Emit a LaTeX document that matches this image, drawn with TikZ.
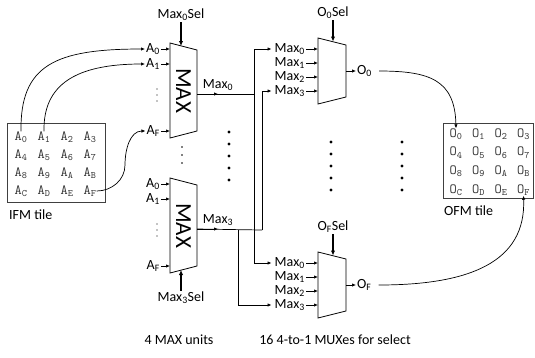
\documentclass[tikz,border=0pt]{standalone}
\usepackage{fontspec}
\setmainfont{Carlito}
\usetikzlibrary{arrows.meta}

\tikzset{
    wire/.style={line width=0.7pt},
    arr/.style={wire, -{Latex[length=4pt,width=3.4pt]}},
    selarr/.style={line width=1.1pt, -{Latex[length=5pt,width=4.5pt]}},
    unitbox/.style={line width=0.8pt},
    tilebox/.style={line width=0.8pt, black!75},
    lbl/.style={font=\fontsize{14}{15}\selectfont, inner sep=1pt},
    cell/.style={font=\ttfamily\fontsize{14}{15}\selectfont, inner sep=0pt, black!80},
}

\begin{document}
\begin{tikzpicture}[x=1pt,y=-1pt]
    \useasboundingbox (0,0) rectangle (535,357);

    % max units
    \foreach \k/\dy in {0/0,3/135} {
        \draw[unitbox] (170,43+\dy) -- (197,50+\dy) -- (197,131+\dy) -- (170,138+\dy) -- cycle;
        \node[rotate=-90, font=\fontsize{23}{23}\selectfont, inner sep=0pt] (max\k) at (183.5,90.5+\dy) {MAX};
        \node[lbl, anchor=east] (A\k-0) at (161,49+\dy) {A\textsubscript{0}};
        \node[lbl, anchor=east] (A\k-1) at (161,64+\dy) {A\textsubscript{1}};
        \node[lbl, anchor=east] (A\k-F) at (161,131+\dy) {A\textsubscript{F}};
        \coordinate (m\k-i0) at (170,49+\dy);
        \coordinate (m\k-i1) at (170,64+\dy);
        \coordinate (m\k-iF) at (170,131+\dy);
        \draw[arr] (A\k-0.east) -- (m\k-i0);
        \draw[arr] (A\k-1.east) -- (m\k-i1);
        \draw[arr] (A\k-F.east) -- (m\k-iF);
        \foreach \y in {89,95,101} \fill (157,\y+\dy) circle[radius=0.7pt];
        \coordinate (m\k-out) at (197,94+\dy);
        \node[lbl, anchor=south] (lblmax\k) at (218,92+\dy) {Max\textsubscript{\k}};
        \draw[arr] (m\k-out) -- (m\k-out -| lblmax\k);
    }
    \node[lbl] (msel0) at (181,15) {Max\textsubscript{0}Sel};
    \coordinate (m0-sel) at (181,46);
    \draw[selarr] (msel0) -- (m0-sel);
    \node[lbl] (msel3) at (181,298) {Max\textsubscript{3}Sel};
    \coordinate (m3-sel) at (181,270);
    \draw[selarr] (msel3) -- (m3-sel);

    % muxes
    \foreach \k/\dy in {0/0,F/214} {
        \draw[unitbox] (318,38+\dy) -- (346,45+\dy) -- (346,97+\dy) -- (318,104+\dy) -- cycle;
        \foreach \i in {0,...,3} {
            \node[lbl, anchor=east] (M\k-\i) at (306,49+14*\i+\dy) {Max\textsubscript{\i}};
            \coordinate (x\k-\i) at (318,49+14*\i+\dy);
            \draw[arr] (M\k-\i.east) -- (x\k-\i);
        }
        \coordinate (x\k-out) at (346,71+\dy);
        \node[lbl, anchor=west] (o\k) at (356,71+\dy) {O\textsubscript{\k}};
        \draw[arr] (x\k-out) -- (o\k.west);
        \node[lbl] (osel\k) at (333,13+\dy) {O\textsubscript{\k}Sel};
        \coordinate (x\k-sel) at (333,41.5+\dy);
        \draw[selarr] (osel\k) -- (x\k-sel);
    }

    % wiring between max units and muxes
    \coordinate (bus0) at (254,94);
    \coordinate (bus3) at (262,230);
    \coordinate (tap3) at (238,230);
    \draw[wire] (m0-out) -- (bus0);
    \draw[wire] (m3-out) -- (bus3);
    \draw[arr, shorten >=2pt] (bus0) |- (M0-0.west);
    \draw[arr, shorten >=2pt] (bus0) |- (MF-0.west);
    \draw[arr, shorten >=2pt] (bus3) |- (M0-3.west);
    \draw[arr, shorten >=2pt] (tap3) |- (MF-3.west);

    % tiles
    \draw[tilebox] (7,123) rectangle (105,202);
    \draw[tilebox] (443,123) rectangle (533,198);
    \foreach \c [count=\n from 0] in {0,1,2,3,4,5,6,7,8,9,A,B,C,D,E,F} {
        \node[cell] (ifm\c) at ({21+23*mod(\n,4)},{137+18*int(\n/4)}) {A\textsubscript{\c}};
        \node[cell] (ofm\c) at ({456+22.5*mod(\n,4)},{134+18.7*int(\n/4)}) {O\textsubscript{\c}};
    }
    \node[lbl, anchor=west] (ifmlbl) at (8,215) {IFM tile};
    \node[lbl, anchor=west] (ofmlbl) at (443,211) {OFM tile};

    % tile to max inputs
    \coordinate (bendF) at (125,165);
    \draw[arr] (ifm0.north) .. controls (20,65) and (55,49) .. (A0-0.west);
    \draw[arr] (ifm1.north) .. controls (43,85) and (75,64) .. (A0-1.west);
    \draw[arr] (ifmF.east) to[out=0,in=-90] (bendF) to[out=90,in=180] (A0-F.west);

    % mux outputs to ofm tile
    \draw[arr] ([xshift=6pt]o0.east) .. controls (430,71) and (455,80) .. (ofm0.north);
    \draw[arr] ([xshift=6pt]oF.east) .. controls (470,285) and (526,262) .. (ofmF.south);

    % dots
    \foreach \y in {132,144,...,180} \fill (229,\y) circle[radius=1.6pt];
    \foreach \y in {142,154,...,190} {
        \fill (331,\y) circle[radius=1.6pt];
        \fill (402,\y) circle[radius=1.6pt];
    }
    \foreach \y in {147,155,163} \fill (182,\y) circle[radius=0.8pt];

    \node[lbl] (capmax) at (179,340) {4 MAX units};
    \node[lbl] (capmux) at (335,340) {16 4-to-1 MUXes for select};
\end{tikzpicture}
\end{document}
